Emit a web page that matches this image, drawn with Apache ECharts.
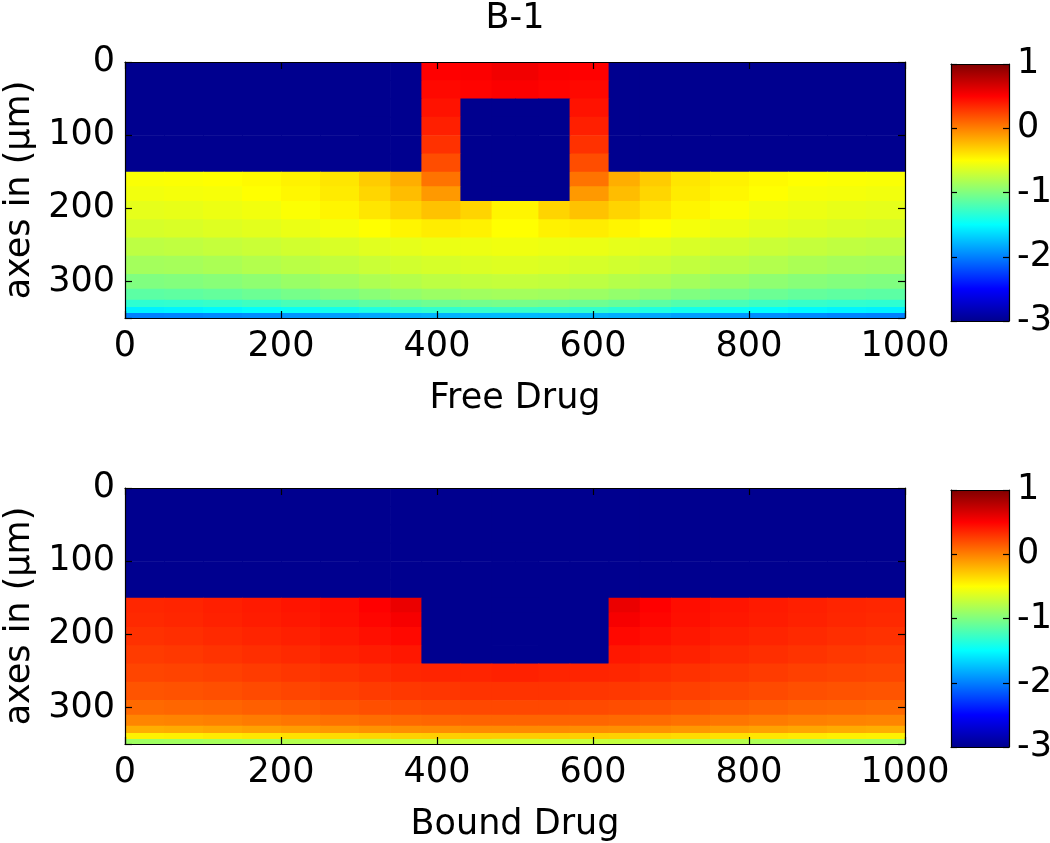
<!DOCTYPE html>
<html>
<head>
<meta charset="utf-8">
<script src="https://cdn.jsdelivr.net/npm/echarts@6/dist/echarts.min.js"></script>
<style>
html,body{margin:0;padding:0;background:#fff;}
#chart{width:1050px;height:843px;}
</style>
</head>
<body>
<div id="chart"></div>
<script>
// ---- data ----
const titleText = 'B-1';
const panelNames = ['Free Drug', 'Bound Drug'];
const yAxisName = 'axes in (µm)';
const xTicks = [0, 200, 400, 600, 800, 1000];
const yTicks = [0, 100, 200, 300];
const cbTicks = [1, 0, -1, -2, -3];
const valueRange = [-3, 1];
const jetColors = ['#00008f', '#0000ff', '#0080ff', '#00ffff', '#80ff80', '#ffff00', '#ff8000', '#ff0000', '#800000'];
// cell edges (µm)
const xEdges = [0,50,100,150,200,250,300,340,380,430,470,500,530,570,620,660,700,750,800,850,900,950,1000];
const yEdges = [0,25,50,75,100,125,150,170,190,215,240,265,290,310,325,335,343,350];

// log10 concentration, rows = depth bands, cols = x bands
const freeDrug = [
[-3,-3,-3,-3,-3,-3,-3,-3,0.5,0.51,0.55,0.55,0.51,0.5,-3,-3,-3,-3,-3,-3,-3,-3],
[-3,-3,-3,-3,-3,-3,-3,-3,0.47,0.49,0.51,0.51,0.49,0.47,-3,-3,-3,-3,-3,-3,-3,-3],
[-3,-3,-3,-3,-3,-3,-3,-3,0.43,-3,-3,-3,-3,0.43,-3,-3,-3,-3,-3,-3,-3,-3],
[-3,-3,-3,-3,-3,-3,-3,-3,0.38,-3,-3,-3,-3,0.38,-3,-3,-3,-3,-3,-3,-3,-3],
[-3,-3,-3,-3,-3,-3,-3,-3,0.31,-3,-3,-3,-3,0.31,-3,-3,-3,-3,-3,-3,-3,-3],
[-3,-3,-3,-3,-3,-3,-3,-3,0.2,-3,-3,-3,-3,0.2,-3,-3,-3,-3,-3,-3,-3,-3],
[-0.52,-0.51,-0.5,-0.48,-0.45,-0.4,-0.3,-0.18,0.05,-3,-3,-3,-3,0.05,-0.18,-0.3,-0.4,-0.45,-0.48,-0.5,-0.51,-0.52],
[-0.55,-0.54,-0.53,-0.5,-0.47,-0.42,-0.34,-0.24,-0.1,-3,-3,-3,-3,-0.1,-0.24,-0.34,-0.42,-0.47,-0.5,-0.53,-0.54,-0.55],
[-0.6,-0.59,-0.57,-0.55,-0.51,-0.46,-0.4,-0.33,-0.26,-0.33,-0.46,-0.46,-0.33,-0.26,-0.33,-0.4,-0.46,-0.51,-0.55,-0.57,-0.59,-0.6],
[-0.66,-0.65,-0.63,-0.61,-0.58,-0.54,-0.5,-0.46,-0.43,-0.45,-0.5,-0.5,-0.45,-0.43,-0.46,-0.5,-0.54,-0.58,-0.61,-0.63,-0.65,-0.66],
[-0.76,-0.75,-0.73,-0.71,-0.68,-0.65,-0.62,-0.6,-0.58,-0.57,-0.56,-0.56,-0.57,-0.58,-0.6,-0.62,-0.65,-0.68,-0.71,-0.73,-0.75,-0.76],
[-0.86,-0.85,-0.83,-0.8,-0.77,-0.74,-0.71,-0.68,-0.66,-0.64,-0.63,-0.63,-0.64,-0.66,-0.68,-0.71,-0.74,-0.77,-0.8,-0.83,-0.85,-0.86],
[-1,-0.99,-0.97,-0.94,-0.9,-0.86,-0.82,-0.79,-0.76,-0.74,-0.73,-0.73,-0.74,-0.76,-0.79,-0.82,-0.86,-0.9,-0.94,-0.97,-0.99,-1],
[-1.14,-1.13,-1.11,-1.08,-1.04,-1,-0.96,-0.92,-0.89,-0.87,-0.86,-0.86,-0.87,-0.89,-0.92,-0.96,-1,-1.04,-1.08,-1.11,-1.13,-1.14],
[-1.32,-1.31,-1.29,-1.26,-1.22,-1.18,-1.14,-1.1,-1.07,-1.05,-1.04,-1.04,-1.05,-1.07,-1.1,-1.14,-1.18,-1.22,-1.26,-1.29,-1.31,-1.32],
[-1.55,-1.54,-1.52,-1.49,-1.46,-1.42,-1.38,-1.34,-1.31,-1.29,-1.28,-1.28,-1.29,-1.31,-1.34,-1.38,-1.42,-1.46,-1.49,-1.52,-1.54,-1.55],
[-2,-1.99,-1.97,-1.95,-1.92,-1.88,-1.85,-1.82,-1.8,-1.78,-1.77,-1.77,-1.78,-1.8,-1.82,-1.85,-1.88,-1.92,-1.95,-1.97,-1.99,-2]
];

const boundDrug = [
[-3,-3,-3,-3,-3,-3,-3,-3,-3,-3,-3,-3,-3,-3,-3,-3,-3,-3,-3,-3,-3,-3],
[-3,-3,-3,-3,-3,-3,-3,-3,-3,-3,-3,-3,-3,-3,-3,-3,-3,-3,-3,-3,-3,-3],
[-3,-3,-3,-3,-3,-3,-3,-3,-3,-3,-3,-3,-3,-3,-3,-3,-3,-3,-3,-3,-3,-3],
[-3,-3,-3,-3,-3,-3,-3,-3,-3,-3,-3,-3,-3,-3,-3,-3,-3,-3,-3,-3,-3,-3],
[-3,-3,-3,-3,-3,-3,-3,-3,-3,-3,-3,-3,-3,-3,-3,-3,-3,-3,-3,-3,-3,-3],
[-3,-3,-3,-3,-3,-3,-3,-3,-3,-3,-3,-3,-3,-3,-3,-3,-3,-3,-3,-3,-3,-3],
[0.35,0.36,0.38,0.4,0.42,0.45,0.5,0.58,-3,-3,-3,-3,-3,-3,0.58,0.5,0.45,0.42,0.4,0.38,0.36,0.35],
[0.34,0.35,0.37,0.39,0.41,0.44,0.48,0.53,-3,-3,-3,-3,-3,-3,0.53,0.48,0.44,0.41,0.39,0.37,0.35,0.34],
[0.31,0.32,0.34,0.36,0.38,0.41,0.44,0.47,-3,-3,-3,-3,-3,-3,0.47,0.44,0.41,0.38,0.36,0.34,0.32,0.31],
[0.27,0.28,0.3,0.32,0.34,0.37,0.39,0.41,-3,-3,-3,-3,-3,-3,0.41,0.39,0.37,0.34,0.32,0.3,0.28,0.27],
[0.23,0.24,0.25,0.27,0.29,0.31,0.33,0.35,0.36,0.36,0.37,0.37,0.36,0.36,0.35,0.33,0.31,0.29,0.27,0.25,0.24,0.23],
[0.17,0.18,0.19,0.21,0.23,0.25,0.27,0.28,0.29,0.3,0.3,0.3,0.3,0.29,0.28,0.27,0.25,0.23,0.21,0.19,0.18,0.17],
[0.09,0.1,0.11,0.13,0.15,0.17,0.19,0.2,0.21,0.22,0.22,0.22,0.22,0.21,0.2,0.19,0.17,0.15,0.13,0.11,0.1,0.09],
[-0.02,-0.01,0,0.02,0.04,0.06,0.08,0.09,0.1,0.11,0.11,0.11,0.11,0.1,0.09,0.08,0.06,0.04,0.02,0,-0.01,-0.02],
[-0.18,-0.17,-0.15,-0.13,-0.11,-0.09,-0.07,-0.06,-0.05,-0.04,-0.04,-0.04,-0.04,-0.05,-0.06,-0.07,-0.09,-0.11,-0.13,-0.15,-0.17,-0.18],
[-0.45,-0.44,-0.42,-0.4,-0.38,-0.36,-0.34,-0.32,-0.31,-0.3,-0.3,-0.3,-0.3,-0.31,-0.32,-0.34,-0.36,-0.38,-0.4,-0.42,-0.44,-0.45],
[-0.88,-0.87,-0.85,-0.83,-0.8,-0.78,-0.76,-0.74,-0.73,-0.72,-0.72,-0.72,-0.72,-0.73,-0.74,-0.76,-0.78,-0.8,-0.83,-0.85,-0.87,-0.88]
];

// ---- build ----
const FONT = "'DejaVu Sans', 'Liberation Sans', Arial, sans-serif";
const FS = 35;

function cells(table) {
  const out = [];
  for (let r = 0; r < table.length; r++) {
    for (let c = 0; c < table[r].length; c++) {
      out.push([xEdges[c], xEdges[c + 1], yEdges[r], yEdges[r + 1], table[r][c]]);
    }
  }
  return out;
}

function renderCell(params, api) {
  const a = api.coord([api.value(0), api.value(2)]);
  const b = api.coord([api.value(1), api.value(3)]);
  return {
    type: 'rect',
    shape: {
      x: Math.min(a[0], b[0]), y: Math.min(a[1], b[1]),
      width: Math.abs(b[0] - a[0]) + 0.7, height: Math.abs(b[1] - a[1]) + 0.7
    },
    style: { fill: api.visual('color') }
  };
}

function renderBar(params, api) {
  const a = api.coord([api.value(0), api.value(2)]);
  const b = api.coord([api.value(1), api.value(3)]);
  const stops = jetColors.map((c, i) => ({ offset: i / (jetColors.length - 1), color: c }));
  return {
    type: 'rect',
    shape: { x: Math.min(a[0], b[0]), y: Math.min(a[1], b[1]), width: Math.abs(b[0] - a[0]), height: Math.abs(b[1] - a[1]) },
    style: { fill: new echarts.graphic.LinearGradient(0, 1, 0, 0, stops) }
  };
}

const lineStyle = { color: '#000', width: 1.2 };
const labelStyle = { color: '#000', fontSize: FS, fontFamily: FONT };

function mainX(grid, pos, name) {
  return {
    gridIndex: grid, type: 'value', position: pos, min: 0, max: 1000, interval: 200, z: 10,
    axisLine: { show: true, onZero: false, lineStyle }, splitLine: { show: false },
    axisTick: { show: true, inside: true, length: 7, lineStyle },
    axisLabel: { show: pos === 'bottom', margin: 11, ...labelStyle,
      formatter: v => xTicks.includes(v) ? String(v) : '' },
    name: name || '', nameLocation: 'middle', nameGap: 63,
    nameTextStyle: { ...labelStyle }
  };
}
function mainY(grid, pos, name) {
  return {
    gridIndex: grid, type: 'value', position: pos, min: 0, max: 350, interval: 100, inverse: true, z: 10,
    axisLine: { show: true, onZero: false, lineStyle }, splitLine: { show: false },
    axisTick: { show: true, inside: true, length: 7, lineStyle },
    axisLabel: { show: pos === 'left', margin: 10, ...labelStyle,
      formatter: v => yTicks.includes(v) ? String(v) : '' },
    name: name || '', nameLocation: 'middle', nameGap: 82, nameRotate: 90,
    nameTextStyle: { ...labelStyle }
  };
}
function cbX(grid, pos) {
  return {
    gridIndex: grid, type: 'value', position: pos, min: 0, max: 1, z: 10,
    axisLine: { show: true, onZero: false, lineStyle }, axisTick: { show: false },
    axisLabel: { show: false }, splitLine: { show: false }
  };
}
function cbY(grid, pos) {
  return {
    gridIndex: grid, type: 'value', position: pos, min: valueRange[0], max: valueRange[1], interval: 1, z: 10,
    axisLine: { show: true, onZero: false, lineStyle }, splitLine: { show: false },
    axisTick: { show: true, inside: true, length: 6, lineStyle },
    axisLabel: { show: pos === 'right', margin: 8, ...labelStyle,
      formatter: v => cbTicks.includes(v) ? String(v) : '' }
  };
}

const chart = echarts.init(document.getElementById('chart'), null, { renderer: 'canvas' });
chart.setOption({
  animation: false,
  backgroundColor: '#fff',
  graphic: [{
    type: 'text', x: 515, y: 19,
    style: { text: titleText, fontSize: FS, fontFamily: FONT, fill: '#000', align: 'center', verticalAlign: 'middle' }
  }],
  grid: [
    { left: 125, top: 62, width: 780, height: 256, outerBoundsMode: 'none', containLabel: false },
    { left: 125, top: 488, width: 780, height: 256, outerBoundsMode: 'none', containLabel: false },
    { left: 951, top: 64, width: 58, height: 257, outerBoundsMode: 'none', containLabel: false },
    { left: 951, top: 490, width: 58, height: 257, outerBoundsMode: 'none', containLabel: false }
  ],
  xAxis: [
    mainX(0, 'bottom', panelNames[0]), mainX(0, 'top'),
    mainX(1, 'bottom', panelNames[1]), mainX(1, 'top'),
    cbX(2, 'bottom'), cbX(2, 'top'),
    cbX(3, 'bottom'), cbX(3, 'top')
  ],
  yAxis: [
    mainY(0, 'left', yAxisName), mainY(0, 'right'),
    mainY(1, 'left', yAxisName), mainY(1, 'right'),
    cbY(2, 'left'), cbY(2, 'right'),
    cbY(3, 'left'), cbY(3, 'right')
  ],
  visualMap: [{
    type: 'continuous', show: false, seriesIndex: [0, 1], dimension: 4,
    min: valueRange[0], max: valueRange[1], inRange: { color: jetColors }
  }],
  series: [
    { type: 'custom', xAxisIndex: 0, yAxisIndex: 0, clip: true, renderItem: renderCell,
      encode: { x: [0, 1], y: [2, 3] }, data: cells(freeDrug) },
    { type: 'custom', xAxisIndex: 2, yAxisIndex: 2, clip: true, renderItem: renderCell,
      encode: { x: [0, 1], y: [2, 3] }, data: cells(boundDrug) },
    { type: 'custom', xAxisIndex: 4, yAxisIndex: 4, clip: true, renderItem: renderBar,
      encode: { x: [0, 1], y: [2, 3] }, data: [[0, 1, valueRange[0], valueRange[1]]] },
    { type: 'custom', xAxisIndex: 6, yAxisIndex: 6, clip: true, renderItem: renderBar,
      encode: { x: [0, 1], y: [2, 3] }, data: [[0, 1, valueRange[0], valueRange[1]]] }
  ]
});
</script>
</body>
</html>
